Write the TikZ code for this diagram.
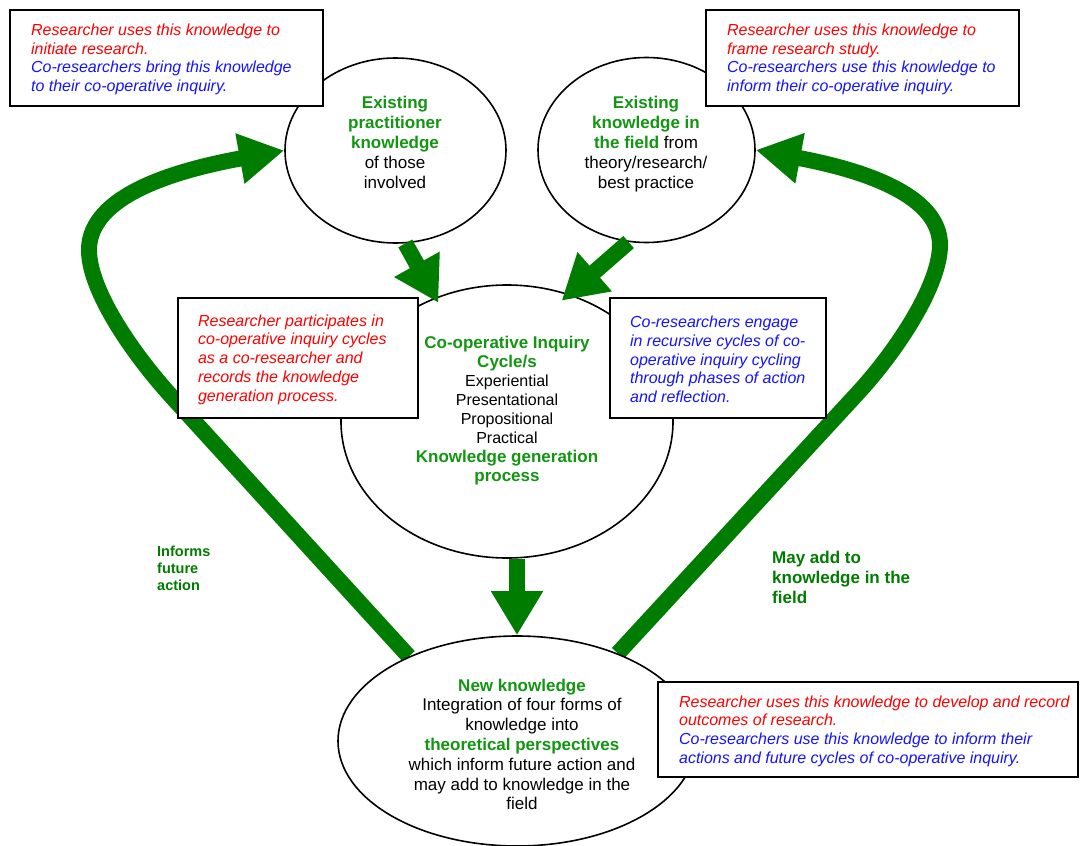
\documentclass[tikz,border=0pt]{standalone}
\usepackage{fontspec}
\setmainfont{Liberation Sans}
\usetikzlibrary{shapes.geometric, arrows.meta, backgrounds}

\definecolor{tgreen}{RGB}{18,150,18}
\definecolor{agreen}{RGB}{0,124,0}
\definecolor{tred}{RGB}{255,0,0}
\definecolor{tblue}{RGB}{20,20,255}

% green bold line inside an ellipse
\newcommand\gline[1]{{\color{tgreen}\bfseries\fontsize{17}{20}\selectfont #1}}
\newcommand\rline[1]{\textcolor{tred}{#1}}
\newcommand\bline[1]{\textcolor{tblue}{#1}}

\tikzset{
  ell/.style={draw, line width=1.6pt, ellipse, fill=white, inner sep=0pt},
  etext/.style={align=center, inner sep=0pt, font=\fontsize{17}{20}\selectfont},
  infobox/.style={draw, line width=2.2pt, fill=white, inner sep=0pt},
  infotext/.style={anchor=west, align=left, inner sep=0pt, yshift=-1.5pt, font=\fontsize{16}{18.7}\selectfont\itshape},
  lbl/.style={anchor=west, align=left, inner sep=0pt, text=agreen},
  bigarrow/.style={draw=agreen, line width=16pt, -{Triangle[length=45pt,width=48pt]}},
  smallarrow/.style={draw=agreen, line width=16pt, -{Triangle[length=44pt,width=49pt]}}
}

\begin{document}
\begin{tikzpicture}[x=1pt,y=-1pt]
\useasboundingbox (0,0) rectangle (1080,846);

% the four knowledge ellipses
\node[ell, minimum width=221pt, minimum height=185pt] (prac) at (395.5,150.5) {};
\node[ell, minimum width=217pt, minimum height=185pt] (fld)  at (646.5,150) {};
\node[ell, minimum width=332pt, minimum height=273pt] (coop) at (507,421.5) {};
\node[ell, minimum width=358pt, minimum height=210pt] (newk) at (517,741) {};

% feedback loops, drawn beneath everything else
\begin{scope}[on background layer]
  \fill[white] (0,0) rectangle (1080,846);
  \draw[bigarrow] (newk.142) -- (172,397)
      .. controls (132,353) and (89,290) .. (89,250)
      .. controls (89,195) and (177,170) .. (prac.west);
  \draw[bigarrow] (newk.41) -- (856,395)
      .. controls (897,351) and (940,285) .. (940,245)
      .. controls (940,195) and (863,170) .. (fld.east);
\end{scope}

% ellipse contents
\node[etext] (pracT) at (395,142.5)
  {\gline{Existing}\\\gline{practitioner}\\\gline{knowledge}\\of those\\involved};
\node[etext] (fldT) at (646,144.5)
  {\gline{Existing}\\\gline{knowledge in}\\\gline{the field} from\\theory/research/\\best practice};
\node[etext, font=\fontsize{16}{18.9}\selectfont] (coopT) at (507,410.7)
  {\gline{Co-operative Inquiry}\\\gline{Cycle/s}\\Experiential\\Presentational\\Propositional\\Practical\\\gline{Knowledge generation}\\\gline{process}};
\node[etext, font=\fontsize{17}{19.8}\selectfont] (newkT) at (522,744.5)
  {\gline{New knowledge}\\Integration of four forms of\\knowledge into\\\gline{theoretical perspectives}\\which inform future action and\\may add to knowledge in the\\field};

% flows between the ellipses
\draw[smallarrow, shorten >=-6pt] (prac.-84) -- (coop.120);
\draw[smallarrow, shorten >=-10pt] (fld.-101) -- (coop.64.5);
\draw[smallarrow] (newk.north |- coop.south) -- (newk.north);

% annotation boxes
\node[infobox, minimum width=313pt, minimum height=96pt] (boxTL) at (166.5,58) {};
\node[infotext] (txtTL) at ([xshift=22pt]boxTL.west)
  {\rline{Researcher uses this knowledge to}\\\rline{initiate research.}\\\bline{Co-researchers bring this knowledge}\\\bline{to their co-operative inquiry.}};

\node[infobox, minimum width=313pt, minimum height=96pt] (boxTR) at (862.5,58) {};
\node[infotext] (txtTR) at ([xshift=22pt]boxTR.west)
  {\rline{Researcher uses this knowledge to}\\\rline{frame research study.}\\\bline{Co-researchers use this knowledge to}\\\bline{inform their co-operative inquiry.}};

\node[infobox, minimum width=240pt, minimum height=120pt] (boxML) at (298,358) {};
\node[infotext] (txtML) at ([xshift=21pt]boxML.west)
  {\rline{Researcher participates in}\\\rline{co-operative inquiry cycles}\\\rline{as a co-researcher and}\\\rline{records the knowledge}\\\rline{generation process.}};

\node[infobox, minimum width=216pt, minimum height=120pt] (boxMR) at (718,358) {};
\node[infotext] (txtMR) at ([xshift=21pt]boxMR.west)
  {\bline{Co-researchers engage}\\\bline{in recursive cycles of co-}\\\bline{operative inquiry cycling}\\\bline{through phases of action}\\\bline{and reflection.}};

\node[infobox, minimum width=420pt, minimum height=95pt] (boxBR) at (868,729.5) {};
\node[infotext] (txtBR) at ([xshift=22pt]boxBR.west)
  {\rline{Researcher uses this knowledge to develop and record}\\\rline{outcomes of research.}\\\bline{Co-researchers use this knowledge to inform their}\\\bline{actions and future cycles of co-operative inquiry.}};

% loop labels
\node[lbl, font=\bfseries\fontsize{14.5}{16.6}\selectfont] (inform) at (157,568.3) {Informs\\future\\action};
\node[lbl, font=\bfseries\fontsize{17}{20}\selectfont] (mayadd) at (772,577) {May add to\\knowledge in the\\field};

\end{tikzpicture}
\end{document}
